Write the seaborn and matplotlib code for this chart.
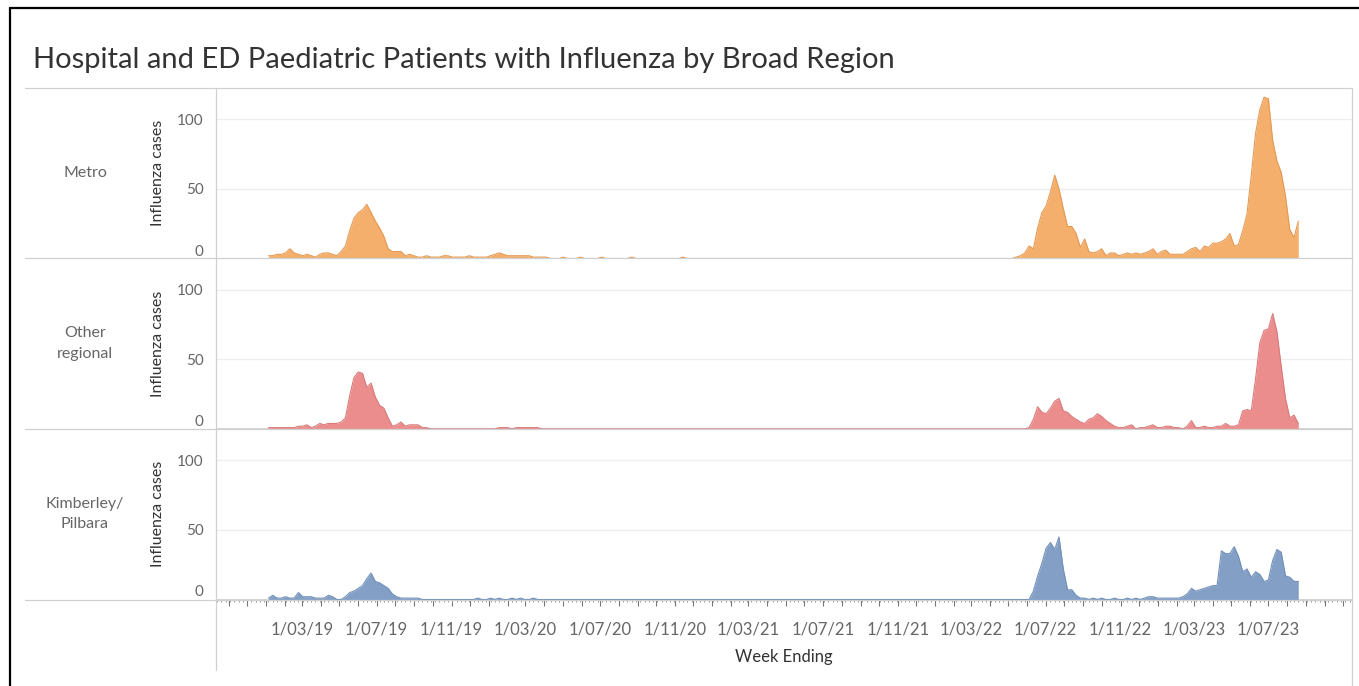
import matplotlib
matplotlib.use("Agg")
import matplotlib.pyplot as plt
import matplotlib.dates as mdates
from matplotlib.ticker import FuncFormatter
from matplotlib.lines import Line2D
import pandas as pd
import seaborn as sns

# weekly data, week ending dates
weeks = pd.date_range("2019-01-05", periods=242, freq="7D")

regions = ["Metro", "Other regional", "Kimberley/Pilbara"]
row_labels = ["Metro", "Other\nregional", "Kimberley/\nPilbara"]
colours = ["#F3AF6B", "#EC8D8D", "#839FC5"]
edges = ["#E59A55", "#DB7A7A", "#7090B8"]

metro = [
    2, 2, 3, 3, 4, 7, 4, 3, 2, 3, 2, 1, 3, 4, 4, 3, 2, 5, 9, 20,
    29, 33, 35, 39, 33, 27, 22, 16, 7, 5, 5, 5, 2, 3, 2, 1, 1, 2, 1, 1,
    1, 2, 2, 1, 1, 1, 1, 2, 1, 1, 1, 1, 2, 3, 4, 3, 2, 2, 2, 2,
    2, 2, 1, 1, 1, 1, 0, 0, 0, 1, 0, 0, 0, 1, 0, 0, 0, 0, 1, 0,
    0, 0, 0, 0, 0, 1, 0, 0, 0, 0, 0, 0, 0, 0, 0, 0, 0, 1, 0, 0,
    0, 0, 0, 0, 0, 0, 0, 0, 0, 0, 0, 0, 0, 0, 0, 0, 0, 0, 0, 0,
    0, 0, 0, 0, 0, 0, 0, 0, 0, 0, 0, 0, 0, 0, 0, 0, 0, 0, 0, 0,
    0, 0, 0, 0, 0, 0, 0, 0, 0, 0, 0, 0, 0, 0, 0, 0, 0, 0, 0, 0,
    0, 0, 0, 0, 0, 0, 0, 0, 0, 0, 0, 0, 0, 0, 0, 1, 2, 4, 9, 7,
    22, 33, 38, 48, 60, 50, 36, 23, 23, 18, 8, 14, 5, 4, 5, 7, 2, 4, 4, 2,
    3, 4, 3, 4, 3, 4, 5, 7, 3, 5, 6, 3, 3, 3, 3, 5, 7, 8, 5, 9,
    8, 11, 11, 12, 14, 18, 9, 10, 20, 32, 60, 90, 107, 116, 115, 85, 70, 62, 45, 21,
    15, 27,
]
other_regional = [
    1, 1, 1, 1, 1, 1, 1, 2, 2, 3, 1, 2, 4, 3, 4, 4, 4, 5, 8, 24,
    37, 41, 40, 30, 33, 23, 17, 15, 8, 2, 3, 5, 2, 3, 3, 3, 1, 1, 0, 0,
    0, 0, 0, 0, 0, 0, 0, 0, 0, 0, 0, 0, 0, 0, 1, 1, 1, 0, 1, 1,
    1, 1, 1, 1, 0, 0, 0, 0, 0, 0, 0, 0, 0, 0, 0, 0, 0, 0, 0, 0,
    0, 0, 0, 0, 0, 0, 0, 0, 0, 0, 0, 0, 0, 0, 0, 0, 0, 0, 0, 0,
    0, 0, 0, 0, 0, 0, 0, 0, 0, 0, 0, 0, 0, 0, 0, 0, 0, 0, 0, 0,
    0, 0, 0, 0, 0, 0, 0, 0, 0, 0, 0, 0, 0, 0, 0, 0, 0, 0, 0, 0,
    0, 0, 0, 0, 0, 0, 0, 0, 0, 0, 0, 0, 0, 0, 0, 0, 0, 0, 0, 0,
    0, 0, 0, 0, 0, 0, 0, 0, 0, 0, 0, 0, 0, 0, 0, 0, 0, 0, 1, 7,
    16, 12, 11, 15, 20, 22, 13, 12, 9, 7, 5, 4, 7, 8, 11, 9, 6, 4, 2, 1,
    1, 2, 3, 0, 1, 1, 2, 3, 1, 1, 2, 2, 1, 1, 0, 2, 6, 1, 1, 2,
    1, 1, 2, 2, 4, 2, 2, 3, 13, 14, 13, 36, 62, 71, 72, 83, 70, 45, 22, 8,
    10, 4,
]
kimberley = [
    1, 3, 1, 1, 2, 1, 1, 5, 2, 2, 2, 1, 1, 1, 3, 2, 0, 0, 2, 5,
    6, 8, 10, 15, 19, 13, 12, 10, 8, 4, 2, 1, 1, 1, 1, 1, 0, 0, 0, 0,
    0, 0, 0, 0, 0, 0, 0, 0, 0, 1, 0, 0, 1, 0, 1, 0, 0, 1, 0, 1,
    0, 0, 1, 0, 0, 0, 0, 0, 0, 0, 0, 0, 0, 0, 0, 0, 0, 0, 0, 0,
    0, 0, 0, 0, 0, 0, 0, 0, 0, 0, 0, 0, 0, 0, 0, 0, 0, 0, 0, 0,
    0, 0, 0, 0, 0, 0, 0, 0, 0, 0, 0, 0, 0, 0, 0, 0, 0, 0, 0, 0,
    0, 0, 0, 0, 0, 0, 0, 0, 0, 0, 0, 0, 0, 0, 0, 0, 0, 0, 0, 0,
    0, 0, 0, 0, 0, 0, 0, 0, 0, 0, 0, 0, 0, 0, 0, 0, 0, 0, 0, 0,
    0, 0, 0, 0, 0, 0, 0, 0, 0, 0, 0, 0, 0, 0, 0, 0, 0, 0, 0, 6,
    17, 26, 37, 41, 36, 45, 22, 7, 7, 3, 1, 1, 0, 1, 0, 1, 0, 0, 1, 0,
    0, 1, 0, 1, 0, 1, 2, 2, 1, 1, 1, 1, 1, 1, 2, 4, 8, 6, 7, 8,
    9, 10, 10, 35, 33, 33, 38, 31, 20, 22, 16, 20, 18, 13, 14, 28, 36, 34, 17, 16,
    13, 13,
]
y_ticks = [0, 50, 100]
label_months = [3, 7, 11]
first_label, last_label = pd.Timestamp("2019-03-01"), pd.Timestamp("2023-07-01")

df = pd.DataFrame({
    "week": list(weeks) * 3,
    "region": [r for r in regions for _ in weeks],
    "cases": metro + other_regional + kimberley,
})

sns.set_theme(style="white")
plt.rcParams["font.family"] = ["Lato", "DejaVu Sans"]

W, H = 1359, 686
fig = plt.figure(figsize=(W / 100, H / 100), dpi=100)


def fx(px):
    return px / W


def fy(py):
    return 1 - py / H


def date_label(v, pos):
    d = pd.Timestamp(mdates.num2date(v)).tz_localize(None)
    if d.month in label_months and first_label <= d <= last_label:
        return f"1/{d.month:02d}/{d.year % 100:02d}"
    return ""


left, right = 216, 1352
tops = [87.5, 258, 428.5]
panel_h = 171
xmin, xmax = pd.Timestamp("2018-10-11"), pd.Timestamp("2023-11-15")

axes = []
for k, region in enumerate(regions):
    top = tops[k]
    ax = fig.add_axes([fx(left), fy(top + panel_h), fx(right) - fx(left), panel_h / H])
    sub = df[df.region == region]
    ax.axhline(0, color="#C4C4C4", lw=1.1, zorder=0.5)
    ax.fill_between(sub.week, sub.cases, 0, color=colours[k], linewidth=0, zorder=2)
    sns.lineplot(data=sub, x="week", y="cases", ax=ax, color=edges[k], linewidth=0.8, zorder=3)
    ax.set_xlim(xmin, xmax)
    ax.set_ylim(0, 123)
    ax.set_yticks(y_ticks)
    ax.yaxis.grid(True, color="#EEEEEE", linewidth=0.9)
    ax.set_axisbelow(True)
    for s in ax.spines.values():
        s.set_visible(False)
    ax.tick_params(axis="y", length=0, labelsize=11, labelcolor="#666666", pad=9)
    ax.yaxis.get_majorticklabels()[0].set_verticalalignment("bottom")
    ax.set_ylabel("")
    ax.set_xlabel("")
    fig.text(fx(158), fy(top + panel_h / 2), "Influenza cases", rotation=90,
             ha="center", va="center", fontsize=11.5, color="#333333")
    fig.text(fx(85), fy(top + panel_h / 2), row_labels[k], ha="center", va="center",
             fontsize=11.5, color="#666666", linespacing=1.6)
    axes.append(ax)

for ax in axes[:-1]:
    ax.tick_params(axis="x", which="both", bottom=False, labelbottom=False)

bx = axes[-1]
bx.xaxis.set_major_locator(mdates.MonthLocator())
bx.xaxis.set_minor_locator(mdates.WeekdayLocator(byweekday=mdates.SA))
bx.xaxis.set_major_formatter(FuncFormatter(date_label))
bx.tick_params(axis="x", which="major", bottom=True, length=4, width=0.8, color="#777777",
               labelsize=12, labelcolor="#666666", pad=12)
bx.tick_params(axis="x", which="minor", bottom=True, length=1.5, width=0.7, color="#999999")

# frame lines
lc = "#D0D0D0"
for y in [87.5, 258, 428.5, 599.5]:
    fig.add_artist(Line2D([fx(25), fx(1352)], [fy(y), fy(y)], color=lc, lw=0.9))
fig.add_artist(Line2D([fx(216), fx(216)], [fy(87.5), fy(670)], color=lc, lw=0.9))
fig.add_artist(Line2D([fx(1352), fx(1352)], [fy(87.5), fy(686)], color=lc, lw=0.9))
fig.add_artist(Line2D([fx(10), fx(10)], [fy(8), fy(686)], color="black", lw=1.6))
fig.add_artist(Line2D([fx(10), fx(1359)], [fy(8), fy(8)], color="black", lw=1.6))

fig.text(fx(33), fy(60), "Hospital and ED Paediatric Patients with Influenza by Broad Region",
         ha="left", va="center", fontsize=21, color="#333333")
fig.text(fx(784), fy(657), "Week Ending", ha="center", va="center", fontsize=12, color="#333333")

fig.savefig("out.png", dpi=100, facecolor="white")
